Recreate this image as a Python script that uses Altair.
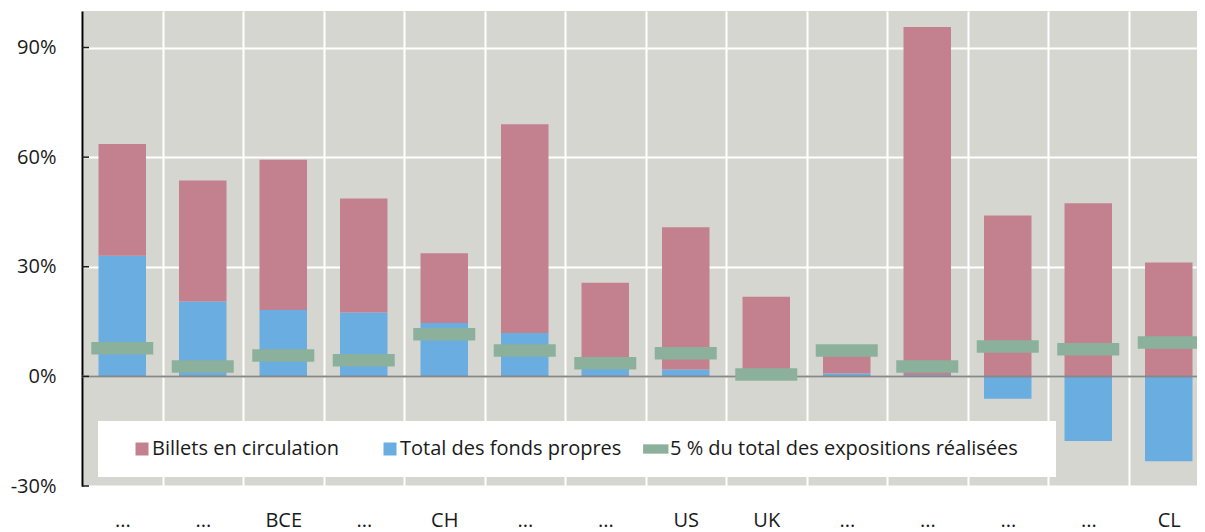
import altair as alt
import pandas as pd

# ---- data ----
labels = ["...", "...", "BCE", "...", "CH", "...", "...", "US", "UK", "...", "...", "...", "...", "CL"]
billets = [30.6, 33.1, 41.1, 31.2, 19.1, 57.1, 23.4, 38.9, 21.5, 5.2, 95.2, 44.0, 47.4, 31.2]
fonds = [33.0, 20.5, 18.2, 17.5, 14.6, 11.9, 2.2, 1.9, 0.3, 0.8, 0.4, -6.1, -17.7, -23.2]
expo5 = [7.7, 2.7, 5.7, 4.4, 11.5, 7.1, 3.6, 6.3, 0.5, 7.1, 2.7, 8.2, 7.4, 9.3]
y_ticks = [-30, 0, 30, 60, 90]

S_B = "Billets en circulation"
S_F = "Total des fonds propres"
S_E = "5 % du total des expositions réalisées"
bar_series = [S_B, S_F]
bar_colors = ["#C3808F", "#6AADE0"]
expo_color = "#8BB09B"
BG = "#D6D6D1"

rows = []
for i in range(len(labels)):
    rows.append(dict(idx=i, series=S_F, value=fonds[i], ord=0))
    rows.append(dict(idx=i, series=S_B, value=billets[i], ord=1))
bars_df = pd.DataFrame(rows)
expo_df = pd.DataFrame(dict(idx=list(range(len(labels))), series=S_E, value=expo5))
ticks_df = pd.DataFrame(dict(value=y_ticks))
zero_df = pd.DataFrame(dict(value=[0]))

FONT = "Open Sans"
TXT = "#1a1a1a"
PLOT_W = 1115      # visible plot width (page is 1205 wide)
BAND_SPAN = 1127   # 14 bands of ~80.5 px; the last band runs past the page edge

label_js = "[" + ",".join("'" + l + "'" for l in labels) + "]"

x_enc = alt.X(
    "idx:O",
    scale=alt.Scale(paddingInner=0, paddingOuter=0, range=[0, BAND_SPAN]),
    axis=alt.Axis(
        title=None, labelExpr=label_js + "[datum.value]", grid=True,
        gridColor="white", gridWidth=2, tickBand="extent", domain=False,
        ticks=False, tickSize=0, labelAngle=0, labelFontSize=20,
        labelPadding=24, labelColor=TXT, labelFont=FONT,
    ),
)
y_scale = alt.Scale(domain=[-30, 100], nice=False, zero=False)
y_axis = alt.Axis(
    title=None, values=y_ticks, labelExpr="datum.value + '%'", grid=True,
    gridColor="white", gridWidth=2, domainColor="black", domainWidth=2,
    ticks=False, tickSize=0, labelPadding=26, labelFontSize=20,
    labelColor=TXT, labelFont=FONT,
)

common_leg = dict(
    orient="none", legendY=410, direction="horizontal",
    fillColor="white", padding=18, symbolSize=169, symbolStrokeWidth=0,
    labelFontSize=20, labelColor=TXT, labelFont=FONT, labelOffset=0,
    labelLimit=0, title=" ", titleFontSize=1,
)
legend_bars = alt.Legend(
    titleOrient="left", titlePadding=16, legendX=16, columns=2,
    columnPadding=40, symbolType="square", **common_leg,
)
legend_expo = alt.Legend(
    titleOrient="right", titlePadding=20, legendX=550, columns=1,
    symbolType="M-2.6,-0.715H1.3V0.715H-2.6Z", **common_leg,
)

bars = alt.Chart(bars_df).mark_bar(width=alt.RelativeBandSize(0.59)).encode(
    x=x_enc,
    y=alt.Y("value:Q", stack="zero", scale=y_scale, axis=y_axis),
    color=alt.Color("series:N", scale=alt.Scale(domain=bar_series, range=bar_colors),
                    legend=legend_bars),
    order=alt.Order("ord:Q", sort="ascending"),
)

zero = alt.Chart(zero_df).mark_rule(color="#888888", strokeWidth=2).encode(
    y=alt.Y("value:Q", scale=y_scale, axis=y_axis),
)

expo = alt.Chart(expo_df).mark_tick(thickness=12.5, size=62, opacity=1).encode(
    x=x_enc,
    y=alt.Y("value:Q", stack=None, scale=y_scale, axis=y_axis),
    fill=alt.Fill("series:N", scale=alt.Scale(domain=[S_E], range=[expo_color]),
                  legend=legend_expo),
)

yticks = alt.Chart(ticks_df).mark_rule(color=TXT, strokeWidth=1.5).encode(
    y=alt.Y("value:Q", scale=y_scale, axis=y_axis),
    x=alt.value(0), x2=alt.value(7),
)

chart = alt.layer(bars, zero, expo, yticks).properties(
    width=PLOT_W, height=475,
    autosize=alt.AutoSizeParams(type="none"),
    padding={"left": 74, "top": 3, "right": 0, "bottom": 45},
    background="white",
    view=alt.ViewBackground(fill=BG, strokeWidth=0),
).configure(
    font=FONT,
    style={"cell": {"fill": BG, "strokeWidth": 0}},
)

chart.save("out.html", embed_options={"renderer": "svg", "actions": False})
